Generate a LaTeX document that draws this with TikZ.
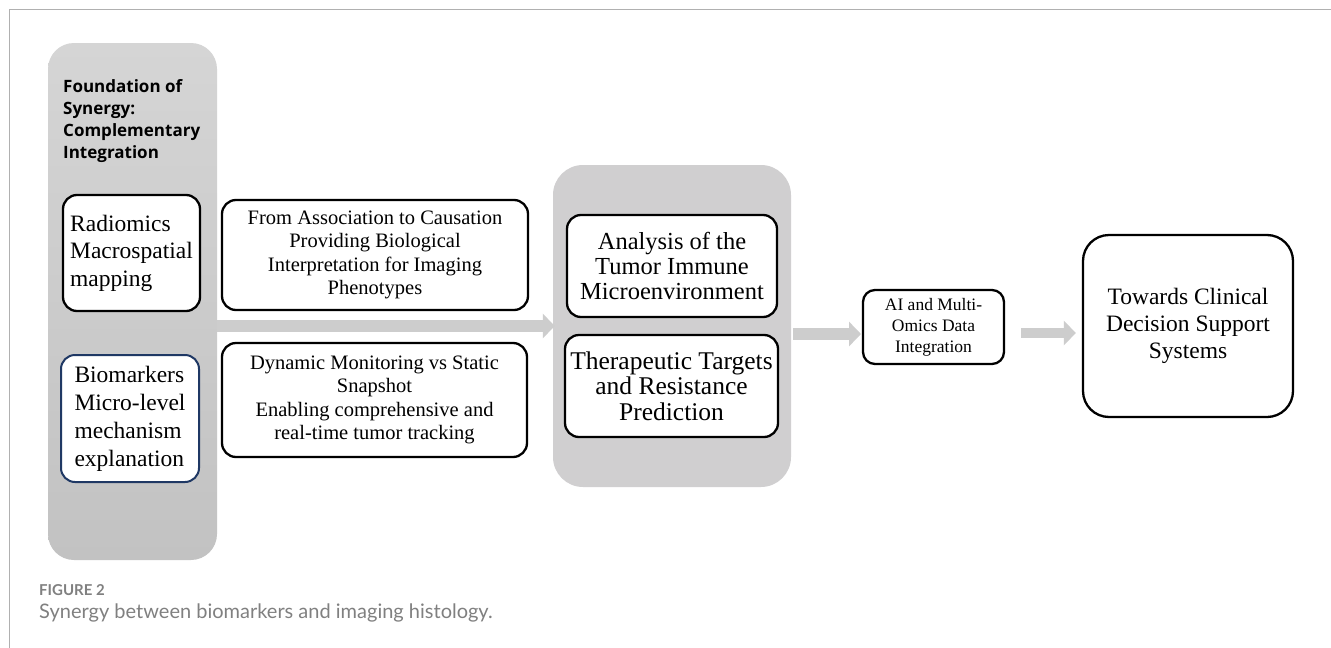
\documentclass[tikz,border=0pt]{standalone}
\usepackage{fontspec}
\setmainfont{Liberation Serif}
\newfontfamily\titlefont{Open Sans}
\newfontfamily\capfont{Lato}
\usetikzlibrary{arrows.meta,calc}

\definecolor{framegray}{HTML}{B0B0B0}
\definecolor{panelgray}{HTML}{D0CFD0}
\definecolor{paneltop}{HTML}{D5D5D5}
\definecolor{panelbot}{HTML}{C2C2C2}
\definecolor{arrowgray}{HTML}{CDCDCD}
\definecolor{navy}{HTML}{1F3864}
\definecolor{capgray}{HTML}{808080}

\begin{document}
\begin{tikzpicture}[x=1pt,y=-1pt,
  box/.style={draw=black, line width=2.3pt, rounded corners=14pt, fill=white, align=center, inner sep=0pt},
  panel/.style={inner sep=0pt},
  fat/.style={draw=arrowgray, line width=11.5pt, -{Triangle[length=12pt,width=24pt]}},
]
\path[use as bounding box] (0,0) rectangle (1331,648);
\fill[white] (0,0) rectangle (1331,648);
\draw[framegray, line width=1.5pt] (9.5,648) -- (9.5,9.5) -- (1331,9.5);

% panels
\node[panel, rounded corners=26pt, top color=paneltop, bottom color=panelbot,
      minimum width=169, minimum height=517] (lp) at (132.5,301.5) {};
\node[panel, rounded corners=30pt, fill=panelgray,
      minimum width=238, minimum height=322] (mp) at (672,326) {};

% title
\node[anchor=north west, align=left, inner sep=0pt,
      font=\titlefont\bfseries\fontsize{17}{22}\selectfont] (title) at (63,79)
  {Foundation of\\Synergy:\\Complementary\\Integration};

% connectors
\draw[fat] (lp.east |- 0,326) -- ([xshift=2pt]mp.west |- 0,326);
\draw[fat, shorten <=2pt, shorten >=1pt] (mp.east |- 0,334) -- (862,334) coordinate (aiin);

% boxes
\node[box, minimum width=137, minimum height=116, align=left, inner xsep=7pt,
      font=\fontsize{23.5}{27.5}\selectfont] (rad) at (131.5,253)
  {Radiomics\\Macrospatial\\mapping};
\node[box, draw=navy, line width=2pt, minimum width=138, minimum height=127, align=left,
      font=\fontsize{23.5}{28}\selectfont] (bio) at (130,418.5)
  {Biomarkers\\Micro-level\\mechanism\\explanation};

\node[box, minimum width=306, minimum height=110,
      font=\fontsize{20.5}{23.5}\selectfont] (assoc) at (375,255)
  {From Association to Causation\\Providing Biological\\Interpretation for Imaging\\Phenotypes};
\node[box, minimum width=305, minimum height=114,
      font=\fontsize{20.5}{23.5}\selectfont] (dyn) at (374.5,400)
  {Dynamic Monitoring vs Static\\Snapshot\\Enabling comprehensive and\\real-time tumor tracking};

\node[box, minimum width=210, minimum height=102,
      font=\fontsize{24.5}{25}\selectfont] (ana) at (672,266)
  {Analysis of the\\Tumor Immune\\Microenvironment};
\node[box, minimum width=213, minimum height=102,
      font=\fontsize{25.5}{25.5}\selectfont] (ther) at (671.5,386)
  {Therapeutic Targets\\and Resistance\\Prediction};

\node[box, rounded corners=12pt, minimum width=141, minimum height=74,
      font=\fontsize{17.5}{21}\selectfont] (ai) at (933.5,327)
  {AI and Multi-\\Omics Data\\Integration};
\node[box, rounded corners=26pt, minimum width=210, minimum height=182,
      font=\fontsize{23.5}{27}\selectfont] (tow) at (1188,326)
  {Towards Clinical\\Decision Support\\Systems};

\draw[fat, line width=10.5pt, shorten <=16pt, shorten >=6pt] (ai.east |- 0,333) -- (tow.west |- 0,333);

% caption
\node[anchor=base west, inner sep=0pt, text=capgray,
      font=\capfont\bfseries\fontsize{15}{18}\selectfont] (figlab) at (39,595) {FIGURE 2};
\node[anchor=base west, inner sep=0pt, text=capgray,
      font=\capfont\fontsize{20}{24}\selectfont] (cap) at (39,618)
  {Synergy between biomarkers and imaging histology.};
\end{tikzpicture}
\end{document}
